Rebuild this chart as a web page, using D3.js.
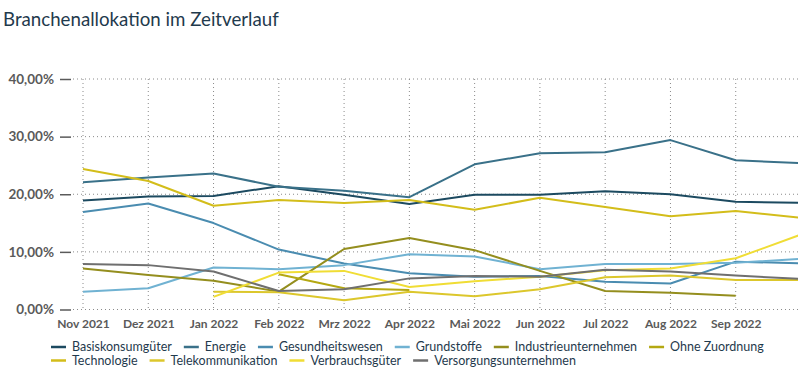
<!DOCTYPE html>
<html lang="de">
<head>
<meta charset="utf-8">
<title>Branchenallokation im Zeitverlauf</title>
<script src="https://d3js.org/d3.v7.min.js"></script>
<style>
  body { margin: 0; background: #fff; }
  svg { display: block; }
  .title { font-family: Lato, sans-serif; font-size: 18.7px; fill: #1f3a4d; }
  .axis text { font-family: Lato, sans-serif; font-size: 12px; font-weight: 700; fill: #5a5a5a; }
  .yaxis text { font-size: 13.5px; }
  .legend text { font-family: Lato, sans-serif; font-size: 12.5px; fill: #1f3a4d; }
</style>
</head>
<body>
<svg id="chart" width="798" height="382"></svg>
<script>
// months (last one is cut off at the right edge of the picture)
var months = ["Nov 2021", "Dez 2021", "Jan 2022", "Feb 2022", "Mrz 2022", "Apr 2022",
              "Mai 2022", "Jun 2022", "Jul 2022", "Aug 2022", "Sep 2022", "Okt 2022"];
var monthLabels = months.slice(0, 11);
var yTicks = [0, 10, 20, 30, 40];

// values in percent
var basiskonsum   = [18.9, 19.6, 19.7, 21.4, 19.9, 18.3, 19.9, 19.9, 20.5, 20.0, 18.7, 18.5];
var energie       = [22.1, 22.9, 23.6, 21.3, 20.6, 19.5, 25.2, 27.1, 27.3, 29.4, 25.9, 25.4];
var gesundheit    = [16.9, 18.4, 15.0, 10.4, 8.0, 6.3, 5.7, 5.8, 4.8, 4.5, 8.3, 8.0];
var grundstoffe   = [3.1, 3.7, 7.3, 7.0, 7.7, 9.6, 9.2, 7.0, 7.9, 7.9, 8.1, 8.8];
var industrie     = [7.1, 6.0, 5.0, 3.1, 10.5, 12.4, 10.3, 6.7, 3.2, 2.9, 2.4, null];
var ohneZuordnung = [null, null, null, 6.1, 3.7, 3.4, null, null, null, null, null, null];
var technologie   = [24.4, 22.3, 18.0, 19.0, 18.5, 19.0, 17.3, 19.4, 17.8, 16.2, 17.1, 15.9];
var telekom       = [null, null, 3.1, 3.0, 1.6, 3.1, 2.3, 3.5, 5.6, 5.9, 5.1, 5.1];
var verbrauch     = [null, null, 2.2, 6.4, 6.7, 3.9, 4.9, 5.7, 6.8, 7.1, 8.9, 13.0];
var versorgung    = [7.9, 7.7, 6.6, 3.2, 3.5, 5.4, 5.8, 5.7, 6.9, 6.6, 5.9, 5.3];

var seriesNames = ["Basiskonsumgüter", "Energie", "Gesundheitswesen", "Grundstoffe",
                   "Industrieunternehmen", "Ohne Zuordnung", "Technologie",
                   "Telekommunikation", "Verbrauchsgüter", "Versorgungsunternehmen"];
var seriesValues = [basiskonsum, energie, gesundheit, grundstoffe, industrie,
                    ohneZuordnung, technologie, telekom, verbrauch, versorgung];
var seriesColors = ["#1c4a60", "#3a7189", "#4a8cb0", "#70b2d2", "#948e1e",
                    "#b4a812", "#d3bd1a", "#dcc72c", "#f0dd35", "#6f6f6f"];

var svg = d3.select("#chart");

svg.append("text")
   .attr("class", "title")
   .attr("x", 3)
   .attr("y", 26)
   .text("Branchenallokation im Zeitverlauf");

var x = d3.scalePoint().domain(months).range([83, 801]);
var y = d3.scaleLinear().domain([0, 40]).range([309.5, 79]);

// horizontal dotted grid
svg.append("g")
   .selectAll("line")
   .data(yTicks)
   .join("line")
   .attr("x1", 73).attr("x2", 798)
   .attr("y1", function(d) { return y(d); })
   .attr("y2", function(d) { return y(d); })
   .attr("stroke", "#8a8a8a")
   .attr("stroke-width", 1)
   .attr("stroke-dasharray", "1,3");

// vertical dotted grid
svg.append("g")
   .selectAll("line")
   .data(monthLabels)
   .join("line")
   .attr("x1", function(d) { return x(d); })
   .attr("x2", function(d) { return x(d); })
   .attr("y1", y(40)).attr("y2", y(0))
   .attr("stroke", "#8a8a8a")
   .attr("stroke-width", 1)
   .attr("stroke-dasharray", "1,3");

// y axis: ticks only, no domain line
var yAxis = d3.axisLeft(y)
   .tickValues(yTicks)
   .tickSize(11)
   .tickPadding(6)
   .tickFormat(function(d) { return d3.format(".2f")(d).replace(".", ",") + "%"; });

var gy = svg.append("g")
   .attr("class", "axis yaxis")
   .attr("transform", "translate(71,0)")
   .call(yAxis);
gy.select(".domain").remove();
gy.selectAll(".tick line").attr("stroke", "#5a5a5a").attr("stroke-width", 1.5);

// x axis labels
var xAxis = d3.axisBottom(x).tickValues(monthLabels).tickSize(0).tickPadding(10);
var gx = svg.append("g")
   .attr("class", "axis")
   .attr("transform", "translate(0," + y(0) + ")")
   .call(xAxis);
gx.select(".domain").remove();

// lines
var line = d3.line()
   .defined(function(d) { return d.v != null; })
   .x(function(d) { return x(d.m); })
   .y(function(d) { return y(d.v); });

svg.append("g")
   .selectAll("path")
   .data(seriesValues)
   .join("path")
   .attr("fill", "none")
   .attr("stroke", function(d, i) { return seriesColors[i]; })
   .attr("stroke-width", 2)
   .attr("stroke-linejoin", "round")
   .attr("d", function(vals) {
      return line(vals.map(function(v, i) { return { m: months[i], v: v }; }));
   });

// legend, flowing in rows
var legend = svg.append("g").attr("class", "legend");
var lx = 51, ly = 347, maxX = 790;
seriesNames.forEach(function(name, i) {
  var item = legend.append("g");
  var t = item.append("text").attr("x", 21).attr("y", 4).text(name);
  var w = 21 + t.node().getComputedTextLength();
  if (lx + w > maxX) { lx = 51; ly += 13.5; }
  item.attr("transform", "translate(" + lx + "," + ly + ")");
  item.append("line")
      .attr("x1", 0).attr("x2", 15).attr("y1", 0).attr("y2", 0)
      .attr("stroke", seriesColors[i]).attr("stroke-width", 2.5);
  lx += w + 12;
});
</script>
</body>
</html>
